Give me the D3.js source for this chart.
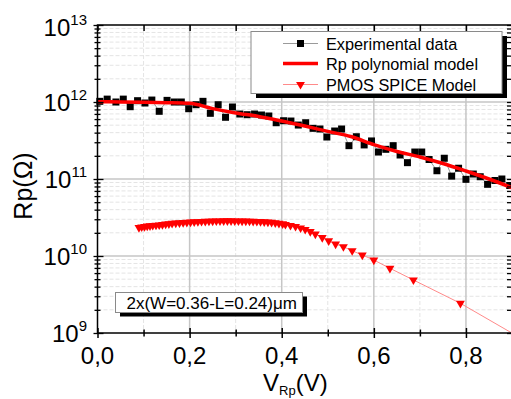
<!DOCTYPE html>
<html>
<head>
<meta charset="utf-8">
<script src="https://cdn.jsdelivr.net/npm/d3@7"></script>
<style>
  body { margin: 0; background: #fff; }
  svg { display: block; font-family: "Liberation Sans", Arial, sans-serif; }
</style>
</head>
<body>
<svg id="chart" width="511" height="399"></svg>
<script>
// experimental data (V, ohm)
const expV = [0.005, 0.021, 0.040, 0.056, 0.071, 0.087, 0.103, 0.118, 0.134, 0.151,
  0.167, 0.182, 0.198, 0.214, 0.229, 0.245, 0.262, 0.278, 0.293, 0.309,
  0.325, 0.341, 0.356, 0.372, 0.388, 0.404, 0.420, 0.436, 0.452, 0.468,
  0.483, 0.498, 0.515, 0.530, 0.546, 0.562, 0.579, 0.595, 0.610, 0.626,
  0.642, 0.657, 0.673, 0.689, 0.704, 0.720, 0.737, 0.753, 0.769, 0.784,
  0.800, 0.816, 0.831, 0.847, 0.863, 0.878, 0.895];
const expR = [1.02e12, 1.09e12, 1.00e12, 1.09e12, 8.69e11, 1.04e12, 9.70e11, 1.06e12, 7.57e11, 1.05e12,
  1.00e12, 1.00e12, 8.18e11, 9.22e11, 1.02e12, 7.13e11, 9.22e11, 6.33e11, 8.61e11, 6.98e11,
  6.84e11, 6.98e11, 6.78e11, 6.58e11, 5.38e11, 5.71e11, 5.66e11, 5.02e11, 5.38e11, 4.55e11,
  4.46e11, 3.51e11, 4.20e11, 4.46e11, 2.71e11, 3.54e11, 2.77e11, 3.12e11, 2.24e11, 2.43e11,
  2.71e11, 2.05e11, 1.63e11, 2.24e11, 2.24e11, 1.79e11, 1.28e11, 1.86e11, 1.09e11, 1.38e11,
  9.9e10, 1.16e11, 1.07e11, 8.53e10, 9.57e10, 1.00e11, 8.24e10];

// Rp polynomial model
const polyV = [0, 0.05, 0.1, 0.15, 0.2, 0.25, 0.3, 0.35, 0.4, 0.45,
  0.5, 0.55, 0.6, 0.65, 0.7, 0.75, 0.8, 0.85, 0.9];
const polyR = [1.01e12, 1.0e12, 9.9e11, 9.8e11, 9.6e11, 8.2e11, 7.2e11, 6.5e11, 5.66e11, 4.87e11,
  4.15e11, 3.56e11, 2.8e11, 2.28e11, 1.93e11, 1.59e11, 1.27e11, 1.0e11, 7.7e10];

// PMOS SPICE model
const spiceV = [0.090, 0.096, 0.102, 0.108, 0.114, 0.120, 0.127, 0.134, 0.141, 0.148,
  0.155, 0.162, 0.170, 0.178, 0.186, 0.194, 0.202, 0.210, 0.218, 0.226,
  0.234, 0.242, 0.250, 0.258, 0.266, 0.274, 0.282, 0.290, 0.298, 0.306,
  0.314, 0.322, 0.330, 0.338, 0.346, 0.354, 0.362, 0.370, 0.378, 0.386,
  0.394, 0.402, 0.408, 0.419, 0.430, 0.441, 0.451, 0.462, 0.473, 0.488,
  0.502, 0.517, 0.534, 0.553, 0.575, 0.600, 0.635, 0.686, 0.788, 0.950];
const spiceR = [2.34e10, 2.38e10, 2.41e10, 2.44e10, 2.47e10, 2.49e10, 2.51e10, 2.53e10, 2.56e10, 2.59e10,
  2.62e10, 2.65e10, 2.67e10, 2.69e10, 2.71e10, 2.73e10, 2.75e10, 2.77e10, 2.79e10, 2.81e10,
  2.82e10, 2.83e10, 2.84e10, 2.85e10, 2.85e10, 2.86e10, 2.86e10, 2.86e10, 2.85e10, 2.85e10,
  2.84e10, 2.84e10, 2.83e10, 2.82e10, 2.81e10, 2.80e10, 2.78e10, 2.76e10, 2.73e10, 2.70e10,
  2.66e10, 2.61e10, 2.57e10, 2.49e10, 2.42e10, 2.31e10, 2.21e10, 2.08e10, 1.93e10, 1.73e10,
  1.57e10, 1.43e10, 1.32e10, 1.17e10, 1.03e10, 8.87e9, 6.92e9, 4.88e9, 2.43e9, 6.7e8];

const xMajor = [0, 0.2, 0.4, 0.6, 0.8];
const xMinor = [0.1, 0.3, 0.5, 0.7, 0.9];
const yDecades = [1e9, 1e10, 1e11, 1e12, 1e13];
const yExponents = ["9", "10", "11", "12", "13"];
const legendLabels = ["Experimental data", "Rp polynomial model", "PMOS SPICE Model"];
const noteText = "2x(W=0.36-L=0.24)\u03bcm";

const pLeft = 97.5, pRight = 512, pTop = 25, pBottom = 333;

const x = d3.scaleLinear().domain([0, 0.9]).range([pLeft, pRight]);
const y = d3.scaleLog().domain([1e9, 1e13]).range([pBottom, pTop]);
const isDecade = v => Math.abs(Math.log10(v) - Math.round(Math.log10(v))) < 1e-9;
const yAll = y.ticks();

const comma = d3.formatLocale({ decimal: ",", thousands: ".", grouping: [3], currency: ["", ""] }).format(".1f");

const svg = d3.select("#chart");

svg.append("defs").append("clipPath").attr("id", "plot")
  .append("rect").attr("x", pLeft).attr("y", pTop)
  .attr("width", pRight - pLeft).attr("height", pBottom - pTop);

// grid
const grid = svg.append("g");
grid.selectAll(".hmin").data(yAll.filter(d => !isDecade(d)))
  .join("line")
  .attr("x1", pLeft).attr("x2", pRight)
  .attr("y1", d => y(d)).attr("y2", d => y(d))
  .attr("stroke", "#e4e4e4").attr("stroke-dasharray", "4,2");
grid.selectAll(".vmin").data(xMinor.slice(0, 4))
  .join("line")
  .attr("x1", d => x(d)).attr("x2", d => x(d))
  .attr("y1", pTop).attr("y2", pBottom)
  .attr("stroke", "#e4e4e4").attr("stroke-dasharray", "4,2");
grid.selectAll(".hmaj").data(yDecades.slice(1, 4))
  .join("line")
  .attr("x1", pLeft).attr("x2", pRight)
  .attr("y1", d => y(d)).attr("y2", d => y(d))
  .attr("stroke", "#c6c6c6").attr("stroke-width", 1.5);
grid.selectAll(".vmaj").data(xMajor.slice(1))
  .join("line")
  .attr("x1", d => x(d)).attr("x2", d => x(d))
  .attr("y1", pTop).attr("y2", pBottom)
  .attr("stroke", "#c6c6c6").attr("stroke-width", 1.5);

const line = d3.line().x(d => x(d[0])).y(d => y(d[1]));
const expData = d3.zip(expV, expR);
const polyData = d3.zip(polyV, polyR);
const spiceData = d3.zip(spiceV, spiceR);

const plot = svg.append("g");

// experimental data
plot.append("path").datum(expData)
  .attr("d", line).attr("fill", "none")
  .attr("stroke", "#9a9a9a").attr("stroke-width", 1);
plot.selectAll(".sq").data(expData)
  .join("path")
  .attr("d", d3.symbol(d3.symbolSquare, 49))
  .attr("transform", d => `translate(${x(d[0])},${y(d[1])})`)
  .attr("fill", "#000");

// polynomial model
plot.append("path").datum(polyData)
  .attr("d", line.curve(d3.curveMonotoneX))
  .attr("clip-path", "url(#plot)")
  .attr("fill", "none").attr("stroke", "#ff0000").attr("stroke-width", 3.5);
line.curve(d3.curveLinear);

// SPICE model
const spice = plot.append("g").attr("clip-path", "url(#plot)");
spice.append("path").datum(spiceData)
  .attr("d", line).attr("fill", "none")
  .attr("stroke", "#ff8a8a").attr("stroke-width", 1);
spice.selectAll(".tri").data(spiceData)
  .join("path")
  .attr("d", d3.symbol(d3.symbolTriangle, 34))
  .attr("transform", d => `translate(${x(d[0])},${y(d[1])}) rotate(180)`)
  .attr("fill", "#ff0000");

// axes
svg.append("rect").attr("x", pLeft).attr("y", pTop)
  .attr("width", pRight - pLeft).attr("height", pBottom - pTop)
  .attr("fill", "none").attr("stroke", "#000").attr("stroke-width", 1.5);

const bottomAxis = svg.append("g").attr("transform", `translate(0,${pBottom})`)
  .call(d3.axisBottom(x).tickValues(xMajor.concat(xMinor)).tickFormat("").tickSizeOuter(0));
bottomAxis.select(".domain").remove();
bottomAxis.selectAll(".tick line")
  .attr("y1", d => xMajor.includes(d) ? -5 : -3.5)
  .attr("y2", d => xMajor.includes(d) ? 5 : 3.5)
  .attr("stroke-width", 1.5);

const topAxis = svg.append("g").attr("transform", `translate(0,${pTop})`)
  .call(d3.axisBottom(x).tickValues(xMajor.concat(xMinor)).tickFormat("").tickSizeOuter(0).tickSize(6));
topAxis.select(".domain").remove();
topAxis.selectAll(".tick line").attr("stroke-width", 1.5);

const leftAxis = svg.append("g").attr("transform", `translate(${pLeft},0)`)
  .call(d3.axisLeft(y).tickValues(yAll).tickFormat("").tickSizeOuter(0));
leftAxis.select(".domain").remove();
leftAxis.selectAll(".tick line")
  .attr("x1", d => isDecade(d) ? -4 : -3)
  .attr("x2", d => isDecade(d) ? 6 : 3)
  .attr("stroke-width", 1.3);

const rightAxis = svg.append("g").attr("transform", `translate(${pRight},0)`)
  .call(d3.axisLeft(y).tickValues(yAll).tickFormat("").tickSizeOuter(0).tickSize(5));
rightAxis.select(".domain").remove();
rightAxis.selectAll(".tick line").attr("stroke-width", 1.3);

// tick labels
svg.append("g").selectAll("text").data(xMajor)
  .join("text")
  .attr("x", d => x(d)).attr("y", 364)
  .attr("text-anchor", "middle").attr("font-size", 24)
  .text(d => comma(d));

const yl = svg.append("g").selectAll("text").data(yDecades)
  .join("text")
  .attr("x", 87).attr("y", d => y(d) + (d === 1e13 ? 10.5 : 8.5))
  .attr("text-anchor", "end").attr("font-size", 24);
yl.append("tspan").text("10");
yl.append("tspan").attr("dy", -11).attr("font-size", 15).text((d, i) => yExponents[i]);

// axis titles
svg.append("text")
  .attr("transform", `translate(32,${(pTop + pBottom) / 2 + 7}) rotate(-90)`)
  .attr("text-anchor", "middle").attr("font-size", 25)
  .text("Rp(\u03a9)");

const xt = svg.append("text").attr("x", 263).attr("y", 391).attr("font-size", 24);
xt.append("tspan").text("V");
xt.append("tspan").attr("dy", 4).attr("font-size", 13).text("Rp");
xt.append("tspan").attr("dy", -4).text("(V)");

// legend
const lg = svg.append("g");
lg.append("rect").attr("x", 256).attr("y", 36).attr("width", 251).attr("height", 62).attr("fill", "#000");
lg.append("rect").attr("x", 251).attr("y", 31.5).attr("width", 251).attr("height", 62)
  .attr("fill", "#fff").attr("stroke", "#8a8a8a").attr("stroke-width", 1);
const rowY = [43.5, 63.5, 84.5];
const item = lg.selectAll(".item").data(legendLabels)
  .join("g").attr("transform", (d, i) => `translate(0,${rowY[i]})`);
item.append("line").attr("x1", 283).attr("x2", 318)
  .attr("stroke", (d, i) => ["#9a9a9a", "#ff0000", "#ff8a8a"][i])
  .attr("stroke-width", (d, i) => i === 1 ? 3.5 : 1);
item.filter((d, i) => i === 0).append("path")
  .attr("d", d3.symbol(d3.symbolSquare, 49)).attr("transform", "translate(300.5,0)").attr("fill", "#000");
item.filter((d, i) => i === 2).append("path")
  .attr("d", d3.symbol(d3.symbolTriangle, 34)).attr("transform", "translate(300.5,0) rotate(180)").attr("fill", "#ff0000");
item.append("text").attr("x", 326).attr("y", 6).attr("font-size", 16.3).text(d => d);

// annotation
const note = svg.append("g");
note.append("rect").attr("x", 120).attr("y", 296.5).attr("width", 187).attr("height", 20).attr("fill", "#000");
note.append("rect").attr("x", 115.5).attr("y", 292.5).attr("width", 187).attr("height", 20)
  .attr("fill", "#fff").attr("stroke", "#8a8a8a").attr("stroke-width", 1);
note.append("text").attr("x", 126.5).attr("y", 308.5).attr("font-size", 17).text(noteText);
</script>
</body>
</html>
